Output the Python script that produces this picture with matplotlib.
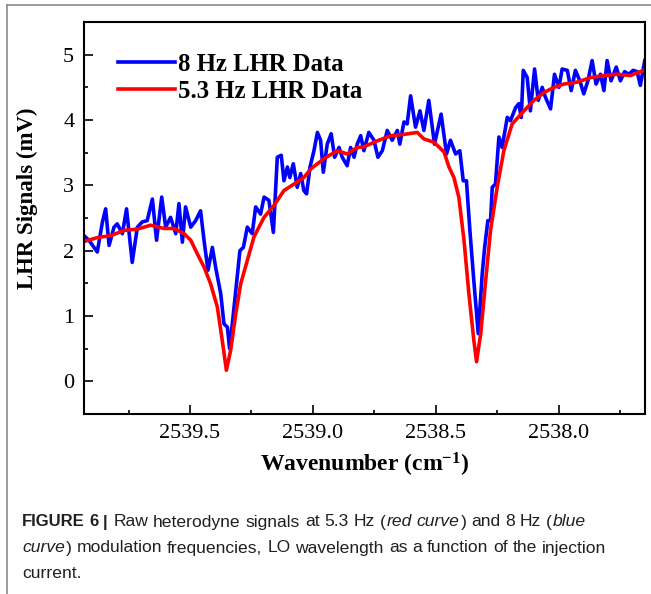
import matplotlib
matplotlib.use("Agg")
import matplotlib.pyplot as plt
from matplotlib.lines import Line2D
from matplotlib.font_manager import FontProperties

# ---------------- data ----------------
wn_8hz = [2539.931, 2539.911, 2539.877, 2539.856, 2539.843, 2539.829, 2539.809, 2539.796,
          2539.775, 2539.758, 2539.735, 2539.714, 2539.694, 2539.674, 2539.653, 2539.636,
          2539.615, 2539.599, 2539.579, 2539.558, 2539.545, 2539.531, 2539.518, 2539.497,
          2539.477, 2539.457, 2539.443, 2539.427, 2539.409, 2539.396, 2539.375, 2539.362,
          2539.348, 2539.339, 2539.328, 2539.314, 2539.297, 2539.283, 2539.267, 2539.247,
          2539.233, 2539.213, 2539.199, 2539.179, 2539.161, 2539.145, 2539.129, 2539.118,
          2539.104, 2539.094, 2539.080, 2539.064, 2539.050, 2539.037, 2539.026, 2539.012,
          2538.996, 2538.982, 2538.969, 2538.958, 2538.942, 2538.926, 2538.912, 2538.894,
          2538.881, 2538.861, 2538.847, 2538.833, 2538.820, 2538.806, 2538.793, 2538.773,
          2538.752, 2538.736, 2538.718, 2538.698, 2538.678, 2538.657, 2538.647, 2538.630,
          2538.617, 2538.603, 2538.583, 2538.565, 2538.549, 2538.529, 2538.506, 2538.479,
          2538.457, 2538.441, 2538.420, 2538.403, 2538.389, 2538.376, 2538.362, 2538.346,
          2538.328, 2538.312, 2538.302, 2538.289, 2538.278, 2538.271, 2538.258, 2538.244,
          2538.231, 2538.210, 2538.197, 2538.176, 2538.163, 2538.153, 2538.145, 2538.129,
          2538.116, 2538.099, 2538.084, 2538.068, 2538.055, 2538.034, 2538.018, 2538.000,
          2537.987, 2537.966, 2537.950, 2537.933, 2537.915, 2537.899, 2537.882, 2537.865,
          2537.849, 2537.831, 2537.817, 2537.804, 2537.788, 2537.767, 2537.750, 2537.733,
          2537.716, 2537.698, 2537.682, 2537.669, 2537.651]
sig_8hz = [2.23, 2.16, 1.98, 2.44, 2.64, 2.08, 2.36, 2.41,
           2.26, 2.64, 1.82, 2.36, 2.44, 2.46, 2.79, 2.16,
           2.82, 2.36, 2.51, 2.26, 2.72, 2.13, 2.67, 2.36,
           2.46, 2.61, 2.16, 1.70, 2.05, 1.75, 1.34, 0.88,
           0.83, 0.50, 0.88, 1.39, 2.00, 2.05, 2.36, 2.26,
           2.67, 2.56, 2.82, 2.77, 2.28, 3.43, 3.46, 3.07,
           3.28, 3.12, 3.33, 2.97, 3.18, 2.92, 2.87, 3.28,
           3.53, 3.81, 3.69, 3.20, 3.63, 3.79, 3.43, 3.58,
           3.43, 3.30, 3.58, 3.43, 3.63, 3.76, 3.53, 3.81,
           3.69, 3.43, 3.53, 3.84, 3.69, 3.84, 3.63, 3.97,
           3.94, 4.37, 3.89, 4.14, 3.84, 4.30, 3.63, 4.09,
           3.48, 3.69, 3.48, 3.53, 3.07, 3.07, 2.31, 1.54,
           0.73, 1.64, 2.05, 2.46, 2.46, 2.97, 3.02, 3.74,
           3.58, 4.04, 3.99, 4.19, 4.25, 4.04, 4.76, 4.65,
           4.14, 4.78, 4.30, 4.50, 4.35, 4.17, 4.70, 4.50,
           4.78, 4.76, 4.45, 4.76, 4.60, 4.40, 4.60, 4.91,
           4.55, 4.70, 4.45, 4.91, 4.60, 4.81, 4.60, 4.74,
           4.70, 4.76, 4.74, 4.53, 4.91]

wn_53hz = [2539.931, 2539.877, 2539.822, 2539.768, 2539.714, 2539.660, 2539.606, 2539.565,
           2539.524, 2539.497, 2539.470, 2539.443, 2539.416, 2539.389, 2539.369, 2539.352,
           2539.335, 2539.314, 2539.294, 2539.267, 2539.240, 2539.199, 2539.159, 2539.118,
           2539.077, 2539.037, 2539.009, 2538.955, 2538.901, 2538.861, 2538.820, 2538.793,
           2538.739, 2538.684, 2538.630, 2538.576, 2538.549, 2538.508, 2538.467, 2538.447,
           2538.427, 2538.407, 2538.386, 2538.366, 2538.346, 2538.335, 2538.318, 2538.298,
           2538.278, 2538.251, 2538.224, 2538.190, 2538.142, 2538.102, 2538.061, 2538.020,
           2537.980, 2537.926, 2537.871, 2537.817, 2537.763, 2537.709, 2537.650]
sig_53hz = [2.14, 2.20, 2.23, 2.31, 2.33, 2.39, 2.34, 2.34,
            2.26, 2.16, 1.95, 1.75, 1.49, 1.14, 0.63, 0.17,
            0.47, 1.03, 1.49, 1.85, 2.21, 2.51, 2.69, 2.92,
            3.02, 3.12, 3.25, 3.41, 3.53, 3.48, 3.58, 3.59,
            3.68, 3.76, 3.78, 3.81, 3.71, 3.66, 3.51, 3.28,
            3.12, 2.82, 2.16, 1.34, 0.63, 0.30, 0.73, 1.54,
            2.31, 2.97, 3.53, 3.94, 4.14, 4.30, 4.42, 4.50,
            4.55, 4.58, 4.65, 4.68, 4.70, 4.68, 4.77]

labels = ["8 Hz LHR Data", "5.3 Hz LHR Data"]
x_ticks = [2539.5, 2539.0, 2538.5, 2538.0]
y_ticks = [0, 1, 2, 3, 4, 5]

# ---------------- style ----------------
plt.rcParams["font.family"] = ["Liberation Serif", "DejaVu Serif"]
plt.rcParams["mathtext.fontset"] = "custom"
plt.rcParams["mathtext.rm"] = "Liberation Serif:bold"
plt.rcParams["mathtext.it"] = "Liberation Serif:bold"
plt.rcParams["mathtext.bf"] = "Liberation Serif:bold"

W, H = 651, 594
fig = plt.figure(figsize=(W / 100, H / 100), dpi=100)
ax = fig.add_axes([84 / W, 1 - 414 / H, (645 - 84) / W, (414 - 22) / H])

ax.plot(wn_8hz, sig_8hz, color="#0000ff", lw=2.6, label=labels[0], solid_joinstyle="round")
ax.plot(wn_53hz, sig_53hz, color="#ff0000", lw=2.6, label=labels[1], solid_joinstyle="round")

ax.set_xlim(2539.931, 2537.65)
ax.set_ylim(-0.5, 5.5)
ax.set_xticks(x_ticks)
ax.set_xticklabels([f"{v:.1f}" for v in x_ticks])
ax.set_xticks([2539.75, 2539.25, 2538.75, 2538.25, 2537.75], minor=True)
ax.set_yticks(y_ticks)
ax.set_yticks([0.5, 1.5, 2.5, 3.5, 4.5], minor=True)
ax.tick_params(which="both", direction="in", width=1.2, labelsize=16, color="black")
ax.tick_params(which="major", length=6.5, pad=7)
ax.tick_params(which="minor", length=3)
for s in ax.spines.values():
    s.set_linewidth(1.5)

ax.set_xlabel("Wavenumber (cm$^{-1}$)", fontsize=17, fontweight="bold", labelpad=6)
ax.set_ylabel("LHR Signals (mV)", fontsize=16.5, fontweight="bold")
ax.yaxis.set_label_coords(-0.082, 0.55)

leg = ax.legend(loc="upper left", bbox_to_anchor=(0.060, 0.922), frameon=False,
                prop={"size": 17.8, "weight": "bold"}, handlelength=2.3,
                handletextpad=0.15, labelspacing=0.18, borderpad=0, borderaxespad=0)

# ---------------- page frame ----------------
fig.add_artist(Line2D([7 / W, 1], [1 - 5 / H, 1 - 5 / H], color="#8a8a8a", lw=1.2))
fig.add_artist(Line2D([7 / W, 7 / W], [0, 1 - 5 / H], color="#8a8a8a", lw=1.2))

# ---------------- caption ----------------
cap_font = ["Liberation Sans Narrow", "Liberation Sans", "DejaVu Sans"]
cap_size = 12.6
# (text, weight, style, space_before)
cap_lines = [
    [("FIGURE 6 |", "bold", "normal", 0), ("Raw heterodyne signals at 5.3 Hz (", "normal", "normal", 1),
     ("red curve", "normal", "italic", 0), (") and 8 Hz (", "normal", "normal", 0),
     ("blue", "normal", "italic", 0)],
    [("curve", "normal", "italic", 0),
     (") modulation frequencies, LO wavelength as a function of the injection", "normal", "normal", 0)],
    [("current.", "normal", "normal", 0)],
]
cap_y = [522, 548, 573]
fig.canvas.draw()
renderer = fig.canvas.get_renderer()
space_px = cap_size * 100 / 72 * 0.26


def text_w(s, prop):
    if not s:
        return 0.0
    w, h, d = renderer.get_text_width_height_descent(s, prop, ismath=False)
    return w


for line, yp in zip(cap_lines, cap_y):
    xp = 22
    for txt, wt, st, sp in line:
        size = cap_size if wt == "normal" else 12
        prop = FontProperties(family=cap_font, size=size, weight=wt, style=st)
        xp += sp * space_px
        words = txt.split(" ")
        pos = 0
        for i, w_ in enumerate(words):
            # left position of this word within the chunk, from the chunk's own layout
            prefix = " ".join(words[:i + 1])
            wx = xp + text_w(prefix, prop) - text_w(w_, prop)
            fig.text(wx / W, 1 - yp / H, w_, fontproperties=prop,
                     ha="left", va="center", color="#231f20")
        xp += text_w(txt, prop) + 1

fig.savefig("out.png", dpi=100)
